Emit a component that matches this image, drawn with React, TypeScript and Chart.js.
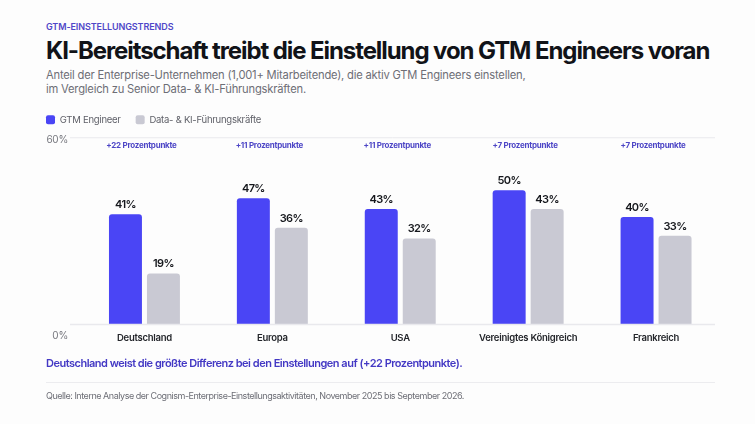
import { useEffect, useRef } from 'react';
import { Chart, registerables } from 'chart.js';

Chart.register(...registerables);

const FONT = 'Inter, "Noto Sans", sans-serif';

const categories = ['Deutschland', 'Europa', 'USA', 'Vereinigtes Königreich', 'Frankreich'];
const gtmEngineer = [41, 47, 43, 50, 40];
const dataLeaders = [19, 36, 32, 43, 33];
const gapLabels = ['+22 Prozentpunkte', '+11 Prozentpunkte', '+11 Prozentpunkte', '+7 Prozentpunkte', '+7 Prozentpunkte'];
const tickLabels = ['0%', '60%'];

// the bars in the source are shorter than its axis says: the line labelled 60% sits near 69.5 on the bar scale
const axisTop = 69.5;

const overlayPlugin = {
  id: 'overlay',
  beforeLayout(chart: any) {
    chart.ctx.letterSpacing = '-0.25px';
  },
  beforeDraw(chart: any) {
    chart.ctx.letterSpacing = '-0.25px';
  },
  afterDatasetsDraw(chart: any) {
    const { ctx, scales } = chart;
    const y = scales.y;
    const x = scales.x;
    ctx.save();

    // grid lines
    ctx.strokeStyle = '#e9e9ed';
    ctx.lineWidth = 1;
    ctx.beginPath();
    ctx.moveTo(70, y.getPixelForValue(axisTop));
    ctx.lineTo(715, y.getPixelForValue(axisTop));
    ctx.stroke();
    ctx.lineWidth = 1.5;
    ctx.beginPath();
    ctx.moveTo(70, y.getPixelForValue(0));
    ctx.lineTo(715, y.getPixelForValue(0));
    ctx.stroke();

    // y labels
    ctx.fillStyle = '#77787f';
    ctx.font = `400 10px ${FONT}`;
    ctx.textAlign = 'right';
    ctx.textBaseline = 'middle';
    ctx.fillText(tickLabels[1], 68, y.getPixelForValue(axisTop) + 2);
    ctx.fillText(tickLabels[0], 68, y.getPixelForValue(0) + 11);

    // value labels
    ctx.textAlign = 'center';
    ctx.textBaseline = 'bottom';
    ctx.fillStyle = '#15171c';
    ctx.font = `600 11px ${FONT}`;
    ctx.letterSpacing = '-0.6px';
    chart.data.datasets.forEach((ds: any, i: number) => {
      chart.getDatasetMeta(i).data.forEach((bar: any, j: number) => {
        ctx.fillText(`${ds.data[j]}%`, bar.x, bar.y - 4);
      });
    });

    // difference labels
    ctx.letterSpacing = '-0.25px';
    ctx.fillStyle = '#4d46c6';
    ctx.font = `700 8px ${FONT}`;
    ctx.textBaseline = 'middle';
    gapLabels.forEach((label, i) => {
      ctx.fillText(label, x.getPixelForValue(i) - 3, 145.5);
    });
    ctx.restore();
  },
};

const text = (top: number, size: number, weight: number, color: string, spacing = 0) => ({
  position: 'absolute' as const,
  left: 46,
  top,
  margin: 0,
  fontFamily: FONT,
  fontSize: size,
  fontWeight: weight,
  color,
  letterSpacing: spacing,
  lineHeight: 1,
  whiteSpace: 'nowrap' as const,
});

export default function App() {
  const chartRef = useRef<HTMLCanvasElement>(null);

  useEffect(() => {
    if (!chartRef.current) return;

    const chart = new Chart(chartRef.current, {
      type: 'bar',
      data: {
        labels: categories,
        datasets: [
          {
            label: 'GTM Engineer',
            data: gtmEngineer,
            backgroundColor: '#4a45f5',
            borderRadius: { topLeft: 3, topRight: 3 },
            borderSkipped: 'bottom',
          },
          {
            label: 'Data- & KI-Führungskräfte',
            data: dataLeaders,
            backgroundColor: '#c9c9d3',
            borderRadius: { topLeft: 3, topRight: 3 },
            borderSkipped: 'bottom',
          },
        ],
      },
      options: {
        responsive: false,
        animation: false,
        devicePixelRatio: 1,
        categoryPercentage: 0.594,
        barPercentage: 0.868,
        layout: { padding: { left: 31, right: 35, top: 100, bottom: 70 } },
        plugins: {
          tooltip: { enabled: false },
          legend: {
            position: 'top',
            align: 'start',
            labels: {
              boxWidth: 9,
              boxHeight: 9,
              padding: 15,
              useBorderRadius: true,
              borderRadius: 2,
              color: '#5f6068',
              font: { family: FONT, size: 9.5 },
            },
          },
        },
        scales: {
          x: {
            grid: { display: false },
            border: { display: false },
            ticks: {
              padding: 0,
              color: '#24262b',
              font: { family: FONT, size: 9.5, weight: 600 },
              maxRotation: 0,
            },
            afterFit(scale: any) {
              scale.height = 29.5;
            },
          },
          y: {
            min: 0,
            max: 70.7,
            grid: { display: false },
            border: { display: false },
            ticks: { display: false },
            afterFit(scale: any) {
              scale.width = 49.5;
            },
          },
        },
      } as any,
      plugins: [overlayPlugin],
    });

    return () => {
      chart.destroy();
    };
  }, []);

  return (
    <div style={{ position: 'absolute', left: 0, top: 0, width: 755, height: 424, background: '#fdfdfd', overflow: 'hidden' }}>
      <p style={text(22, 9, 600, '#4f46c8', -0.1)}>GTM-EINSTELLUNGSTRENDS</p>
      <p style={text(39, 24, 700, '#111318', -1.09)}>KI-Bereitschaft treibt die Einstellung von GTM Engineers voran</p>
      <p style={text(70, 11.2, 400, '#6d6e76', -0.2)}>Anteil der Enterprise-Unternehmen (1,001+ Mitarbeitende), die aktiv GTM Engineers einstellen,</p>
      <p style={text(84, 11.2, 400, '#6d6e76', -0.2)}>im Vergleich zu Senior Data- &amp; KI-Führungskräften.</p>
      <canvas ref={chartRef} width={755} height={424} style={{ position: 'absolute', left: 0, top: 0 }} />
      <p style={text(358, 11, 600, '#4338c4', -0.5)}>Deutschland weist die größte Differenz bei den Einstellungen auf (+22 Prozentpunkte).</p>
      <div style={{ position: 'absolute', left: 46, top: 382, width: 669, height: 1, background: '#ececef' }} />
      <p style={text(391, 9, 400, '#6d6e76', -0.47)}>Quelle: Interne Analyse der Cognism-Enterprise-Einstellungsaktivitäten, November 2025 bis September 2026.</p>
    </div>
  );
}
